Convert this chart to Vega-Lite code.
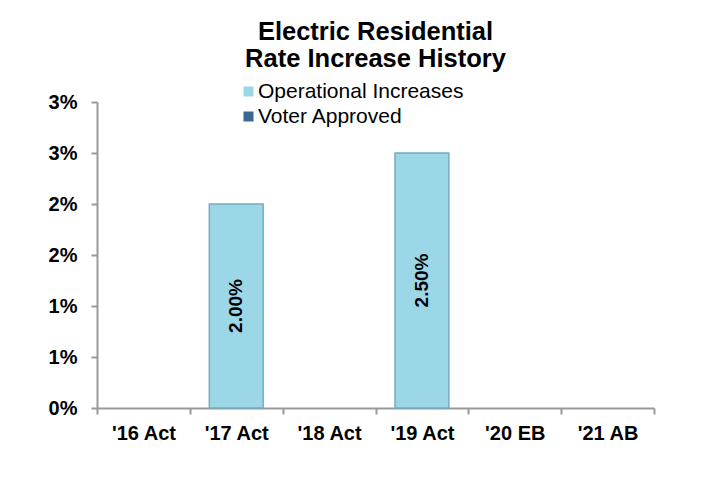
{
  "$schema": "https://vega.github.io/schema/vega-lite/v6.json",
  "width": 557,
  "height": 306,
  "autosize": {"type": "none"},
  "padding": {"left": 97, "top": 102, "right": 52, "bottom": 72},
  "background": "white",
  "config": {"view": {"stroke": null}, "font": "Liberation Sans"},
  "title": {
    "text": ["Electric Residential", "Rate Increase History"],
    "fontSize": 25.5,
    "fontWeight": "bold",
    "color": "black",
    "lineHeight": 27,
    "anchor": "middle",
    "dy": -5,
    "font": "Liberation Sans"
  },
  "data": {
    "values": [
      {"year": "'16 Act", "series": "Operational Increases", "value": 0},
      {"year": "'17 Act", "series": "Operational Increases", "value": 0.02},
      {"year": "'18 Act", "series": "Operational Increases", "value": 0},
      {"year": "'19 Act", "series": "Operational Increases", "value": 0.025},
      {"year": "'20 EB", "series": "Operational Increases", "value": 0},
      {"year": "'21 AB", "series": "Operational Increases", "value": 0},
      {"year": "'16 Act", "series": "Voter Approved", "value": 0},
      {"year": "'17 Act", "series": "Voter Approved", "value": 0},
      {"year": "'18 Act", "series": "Voter Approved", "value": 0},
      {"year": "'19 Act", "series": "Voter Approved", "value": 0},
      {"year": "'20 EB", "series": "Voter Approved", "value": 0},
      {"year": "'21 AB", "series": "Voter Approved", "value": 0}
    ]
  },
  "transform": [{"filter": "datum.value > 0"}],
  "layer": [
    {
      "mark": {"type": "bar", "stroke": "#74ADBE", "strokeWidth": 1.5, "width": {"band": 0.58}},
      "encoding": {
        "x": {
          "field": "year",
          "type": "nominal",
          "sort": null,
          "scale": {
            "domain": ["'16 Act", "'17 Act", "'18 Act", "'19 Act", "'20 EB", "'21 AB"],
            "paddingInner": 0,
            "paddingOuter": 0
          },
          "axis": {
            "title": null,
            "labelAngle": 0,
            "labelFontSize": 20,
            "labelFontWeight": "bold",
            "labelColor": "black",
            "labelFont": "Liberation Sans",
            "labelPadding": 9,
            "tickBand": "extent",
            "tickSize": 6,
            "tickColor": "#999999",
            "tickWidth": 2,
            "domainColor": "#999999",
            "domainWidth": 2,
            "grid": false
          }
        },
        "y": {
          "field": "value",
          "type": "quantitative",
          "scale": {"domain": [0, 0.03], "nice": false},
          "axis": {
            "title": null,
            "values": [0, 0.005, 0.01, 0.015, 0.02, 0.025, 0.03],
            "labelExpr": "ceil(round(datum.value*1000)/10) + '%'",
            "labelFontSize": 20,
            "labelFontWeight": "bold",
            "labelColor": "black",
            "labelFont": "Liberation Sans",
            "labelPadding": 14,
            "tickSize": 6,
            "tickColor": "#999999",
            "tickWidth": 2,
            "domainColor": "#999999",
            "domainWidth": 2,
            "grid": false
          }
        },
        "color": {
          "field": "series",
          "type": "nominal",
          "scale": {
            "domain": ["Operational Increases", "Voter Approved"],
            "range": ["#9CD7E7", "#3A6895"]
          },
          "legend": {
            "orient": "none",
            "legendX": 141,
            "legendY": -21,
            "title": null,
            "symbolType": "square",
            "symbolSize": 100,
            "symbolStrokeWidth": 0,
            "labelFontSize": 21,
            "labelFont": "Liberation Sans",
            "labelColor": "black",
            "labelOffset": -1,
            "labelLimit": 400,
            "rowPadding": 3,
            "padding": 0
          }
        }
      }
    },
    {
      "mark": {
        "type": "text",
        "angle": 270,
        "fontWeight": "bold",
        "fontSize": 19,
        "font": "Liberation Sans",
        "align": "center",
        "baseline": "middle",
        "color": "black"
      },
      "encoding": {
        "x": {"field": "year", "type": "nominal", "sort": null},
        "y": {
          "field": "value",
          "type": "quantitative",
          "scale": {"domain": [0, 0.06], "nice": false},
          "axis": null
        },
        "text": {"field": "value", "type": "quantitative", "format": ".2%"}
      }
    }
  ],
  "resolve": {"scale": {"y": "independent"}}
}
